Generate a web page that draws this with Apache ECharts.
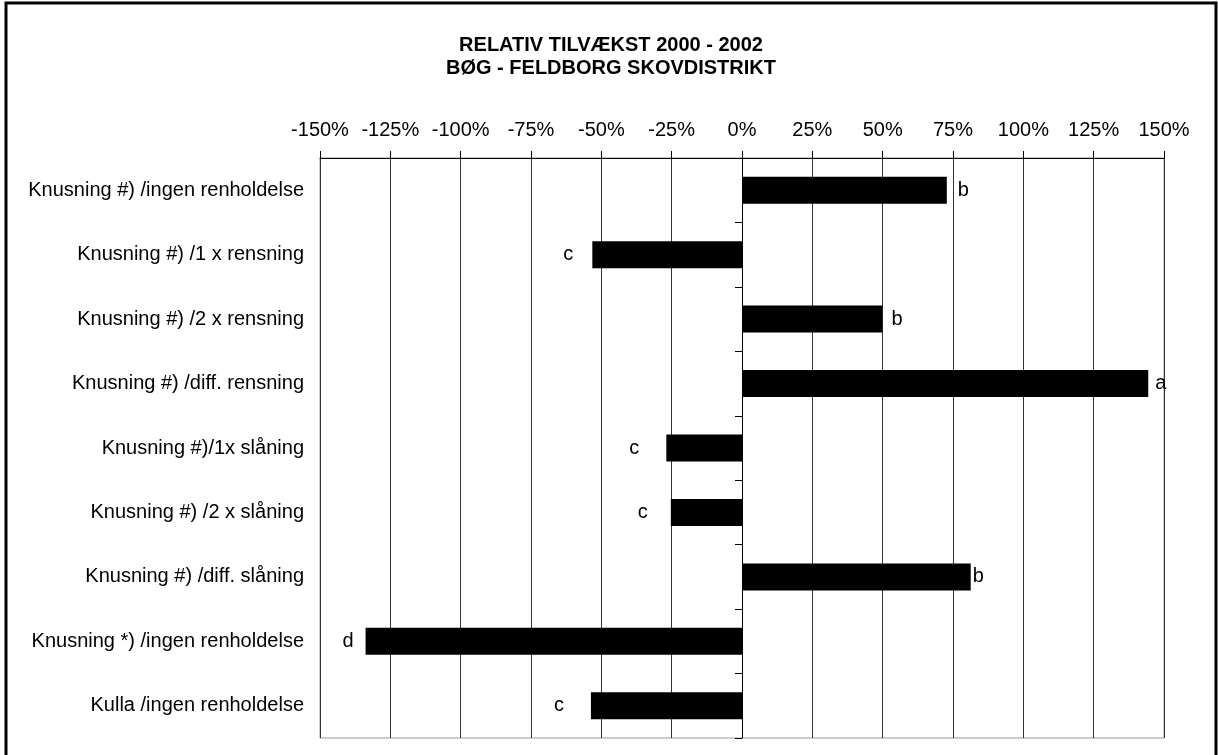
<!DOCTYPE html>
<html>
<head>
<meta charset="utf-8">
<script src="https://cdn.jsdelivr.net/npm/echarts@6/dist/echarts.min.js"></script>
<style>
    html, body { margin: 0; padding: 0; background: #fff; }
    #chart { width: 1218px; height: 755px; }
</style>
</head>
<body>
<div id="chart"></div>
<script>
    // behandlinger, top til bund
    const categories = [
        'Knusning #) /ingen renholdelse',
        'Knusning #) /1 x rensning',
        'Knusning #) /2 x rensning',
        'Knusning #) /diff. rensning',
        'Knusning #)/1x slåning',
        'Knusning #) /2 x slåning',
        'Knusning #) /diff. slåning',
        'Knusning *) /ingen renholdelse',
        'Kulla /ingen renholdelse'
    ];
    // relativ tilvækst i %
    const growth = [72.8, -53.2, 49.9, 144.4, -26.9, -25.3, 81.3, -133.8, -53.7];
    // signifikansbogstaver
    const letters = ['b', 'c', 'b', 'a', 'c', 'c', 'b', 'd', 'c'];

    // afstand fra søjleende til bogstav (layout, ikke data)
    const letterGap = [11, 19, 9, 7, 27, 23, 2, 12, 27];

    const font = "'Liberation Sans', Arial, sans-serif";

    let chart = echarts.init(document.getElementById('chart'));

    let barData = growth.map(function (v, i) {
        return {
            value: v,
            label: {
                show: true,
                position: v >= 0 ? 'right' : 'left',
                distance: letterGap[i],
                formatter: letters[i]
            }
        };
    });

    let option = {
        animation: false,
        title: {
            text: 'RELATIV TILVÆKST 2000 - 2002\nBØG - FELDBORG SKOVDISTRIKT',
            left: 606,
            textAlign: 'center',
            top: 29,
            textStyle: {
                fontFamily: font,
                fontSize: 20,
                fontWeight: 'bold',
                color: '#000',
                lineHeight: 23
            }
        },
        grid: {
            left: 320,
            right: 54,
            top: 158,
            bottom: 17,
            show: true,
            borderColor: '#999',
            borderWidth: 1
        },
        xAxis: {
            type: 'value',
            position: 'top',
            min: -150,
            max: 150,
            interval: 25,
            axisLine: { show: true, lineStyle: { color: '#000', width: 1 } },
            axisTick: { show: true, length: 7, lineStyle: { color: '#000' } },
            axisLabel: {
                formatter: '{value}%',
                fontFamily: font,
                fontSize: 20,
                color: '#000',
                margin: 18
            },
            splitLine: { show: true, lineStyle: { color: '#333', width: 1 } }
        },
        yAxis: [
            {
                type: 'category',
                data: categories,
                inverse: true,
                axisLine: { show: false, onZero: false },
                axisTick: { show: false },
                axisLabel: {
                    fontFamily: font,
                    fontSize: 20,
                    color: '#000',
                    margin: 16
                }
            },
            {
                type: 'category',
                data: categories,
                inverse: true,
                position: 'left',
                axisLine: { show: true, onZero: true, lineStyle: { color: '#000', width: 1 } },
                axisTick: { show: true, length: 7, lineStyle: { color: '#000' } },
                axisLabel: { show: false }
            }
        ],
        series: [
            {
                type: 'bar',
                yAxisIndex: 0,
                data: barData,
                barWidth: 27,
                itemStyle: { color: '#000' },
                label: {
                    fontFamily: font,
                    fontSize: 20,
                    color: '#000'
                }
            }
        ],
        graphic: [
            {
                type: 'rect',
                shape: { x: 6, y: 3, width: 1210, height: 800 },
                style: { fill: 'none', stroke: '#000', lineWidth: 3 },
                silent: true
            }
        ]
    };

    chart.setOption(option);
</script>
</body>
</html>
